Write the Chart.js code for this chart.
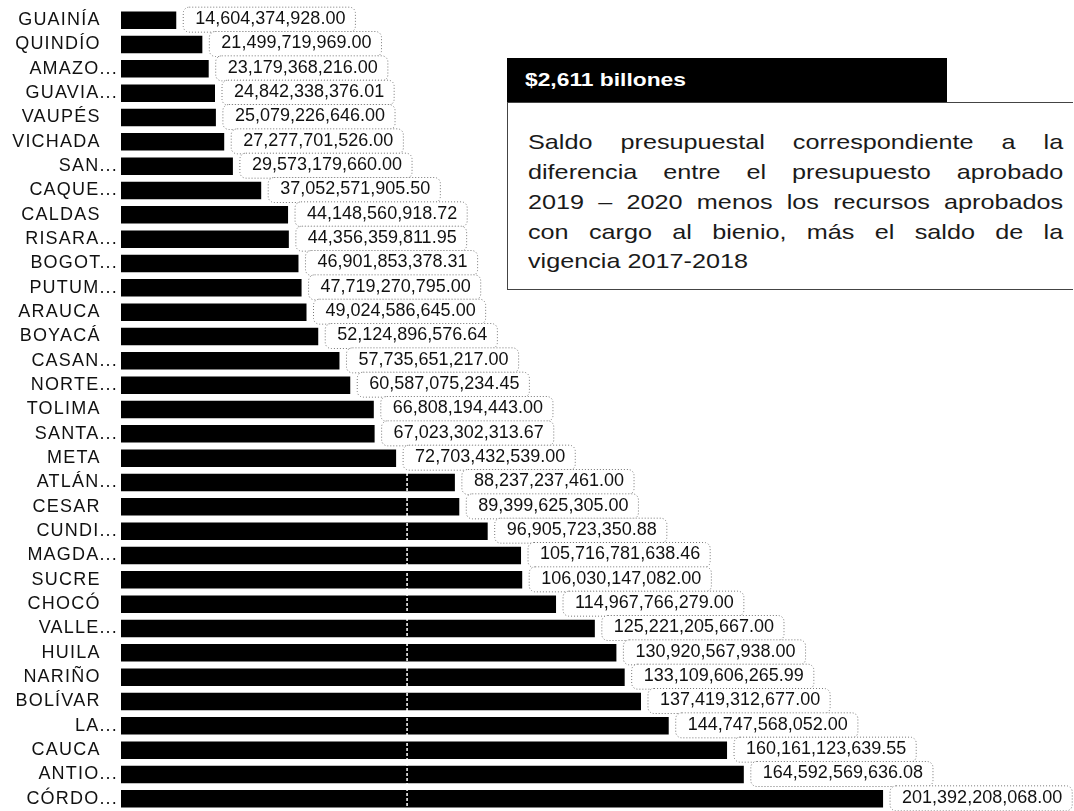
<!DOCTYPE html>
<html>
<head>
<meta charset="utf-8">
<script src="https://cdn.jsdelivr.net/npm/chart.js@4/dist/chart.umd.min.js"></script>
<style>
  body { margin: 0; background: #fff; }
  #wrap { position: relative; width: 1074px; height: 811px; }
  #header {
    position: absolute; left: 507px; top: 58px; width: 440px; height: 44px;
    background: #000; color: #fff;
    font: bold 19px "Liberation Sans", Arial, sans-serif;
    line-height: 44px;
  }
  #header span { display: inline-block; margin-left: 18px; transform: scaleX(1.2); transform-origin: left; }
  #note {
    position: absolute; left: 507px; top: 102px; width: 566px; height: 188px;
    border: 1px solid #444; border-right: none; background: #fff;
    box-sizing: border-box;
  }
  #note div {
    position: absolute; left: 20px; width: 446px;
    font: 21px "Liberation Sans", Arial, sans-serif; color: #1a1a1a;
    text-align: justify; text-align-last: justify;
    transform: scaleX(1.2); transform-origin: left;
    line-height: 24px;
  }
  #note div.last { text-align-last: left; }
</style>
</head>
<body>
<div id="wrap">
  <canvas id="chart"></canvas>
  <div id="header"><span>$2,611 billones</span></div>
  <div id="note">
    <div style="top:27px">Saldo presupuestal correspondiente a la</div>
    <div style="top:57px">diferencia entre el presupuesto aprobado</div>
    <div style="top:87px">2019 – 2020 menos los recursos aprobados</div>
    <div style="top:117px">con cargo al bienio, más el saldo de la</div>
    <div class="last" style="top:146px">vigencia 2017-2018</div>
  </div>
</div>
<script>
//departamentos (labels as they appear, truncated ones with ...)
const categories = [
  "GUAINÍA", "QUINDÍO", "AMAZO...", "GUAVIA...", "VAUPÉS", "VICHADA", "SAN...",
  "CAQUE...", "CALDAS", "RISARA...", "BOGOT...", "PUTUM...", "ARAUCA", "BOYACÁ",
  "CASAN...", "NORTE...", "TOLIMA", "SANTA...", "META", "ATLÁN...", "CESAR",
  "CUNDI...", "MAGDA...", "SUCRE", "CHOCÓ", "VALLE...", "HUILA", "NARIÑO",
  "BOLÍVAR", "LA...", "CAUCA", "ANTIO...", "CÓRDO..."
];
//saldo per departamento (pesos)
const values = [
  14604374928.00, 21499719969.00, 23179368216.00, 24842338376.01, 25079226646.00,
  27277701526.00, 29573179660.00, 37052571905.50, 44148560918.72, 44356359811.95,
  46901853378.31, 47719270795.00, 49024586645.00, 52124896576.64, 57735651217.00,
  60587075234.45, 66808194443.00, 67023302313.67, 72703432539.00, 88237237461.00,
  89399625305.00, 96905723350.88, 105716781638.46, 106030147082.00, 114967766279.00,
  125221205667.00, 130920567938.00, 133109606265.99, 137419312677.00, 144747568052.00,
  160161123639.55, 164592569636.08, 201392208068.00
];
//the one white dotted gridline that shows through the bars
const gridValue = 75.6e9;
const axisMax = 250e9;

const fmt = (v) => v.toLocaleString("en-US", { minimumFractionDigits: 2, maximumFractionDigits: 2 });

//white dotted line over the bars
const whiteGrid = {
  id: "whiteGrid",
  afterDatasetsDraw(chart) {
    const ctx = chart.ctx;
    const area = chart.chartArea;
    const x = chart.scales.x.getPixelForValue(gridValue);
    ctx.save();
    ctx.strokeStyle = "#fff";
    ctx.lineWidth = 1.5;
    ctx.setLineDash([3, 2]);
    ctx.beginPath();
    ctx.moveTo(x, area.top);
    ctx.lineTo(x, area.bottom);
    ctx.stroke();
    ctx.restore();
  }
};

//boxed value labels at the end of each bar
const valueLabels = {
  id: "valueLabels",
  afterDatasetsDraw(chart) {
    const ctx = chart.ctx;
    const meta = chart.getDatasetMeta(0);
    ctx.save();
    ctx.font = '18px "Liberation Sans", Arial, sans-serif';
    ctx.letterSpacing = "0px";
    ctx.textBaseline = "middle";
    ctx.textAlign = "left";
    meta.data.forEach((bar, i) => {
      const text = fmt(values[i]);
      const w = ctx.measureText(text).width;
      const x = bar.x + 7;
      const y = bar.y;
      ctx.beginPath();
      ctx.roundRect(x, y - 13, w + 22, 25, 6);
      ctx.fillStyle = "#fff";
      ctx.fill();
      ctx.setLineDash([1, 2]);
      ctx.strokeStyle = "#777";
      ctx.lineWidth = 1;
      ctx.stroke();
      ctx.setLineDash([]);
      ctx.fillStyle = "#111";
      ctx.fillText(text, x + 12, y - 1);
    });
    ctx.restore();
  }
};

//wider letters, like the scanned original
const spacing = {
  id: "spacing",
  beforeDraw(chart) {
    chart.ctx.letterSpacing = "1.2px";
  }
};

let myChart = new Chart(document.getElementById("chart"), {
  type: "bar",
  plugins: [spacing, whiteGrid, valueLabels],
  data: {
    labels: categories,
    datasets: [{
      data: values,
      backgroundColor: "#000",
      borderWidth: 0,
      barPercentage: 0.72,
      categoryPercentage: 1
    }]
  },
  options: {
    indexAxis: "y",
    responsive: true,
    maintainAspectRatio: false,
    animation: false,
    layout: { padding: { top: 8, bottom: 0, right: 7, left: 0 } },
    plugins: {
      legend: { display: false },
      tooltip: { enabled: false }
    },
    scales: {
      x: {
        display: false,
        min: 0,
        max: axisMax
      },
      y: {
        afterFit: (scale) => {
          scale.width = 121;
          scale.paddingTop = 0;
          scale.paddingBottom = 0;
        },
        grid: { display: false, drawTicks: false },
        border: { display: false },
        ticks: {
          padding: 3,
          color: "#111",
          autoSkip: false,
          font: { family: '"Liberation Sans", Arial, sans-serif', size: 18 },
          //full names sit a bit left of the truncated ones
          callback: function (value) {
            const label = this.getLabelForValue(value);
            return label.endsWith("...") ? label : label + "\u2007 ";
          }
        }
      }
    }
  }
});
</script>
</body>
</html>
